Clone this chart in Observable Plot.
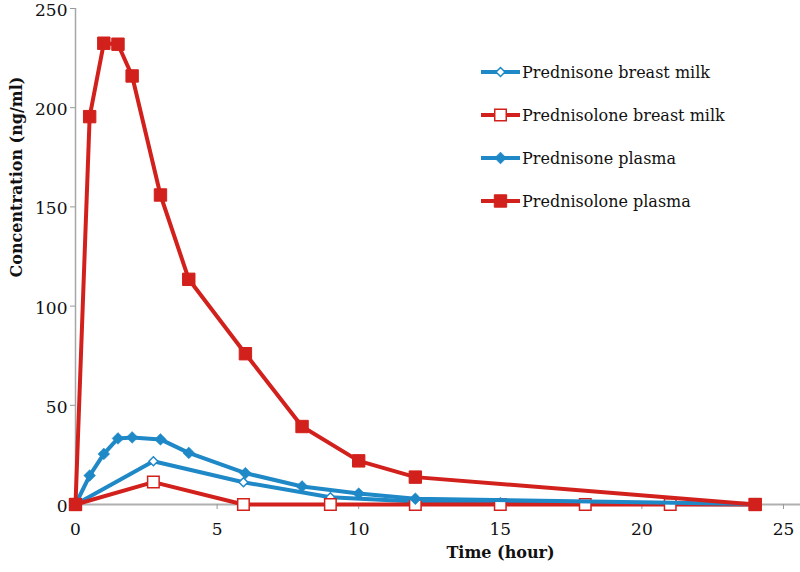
<!DOCTYPE html>
<html>
<head>
<meta charset="utf-8">
<script src="https://cdn.jsdelivr.net/npm/d3@7"></script>
<script src="https://cdn.jsdelivr.net/npm/@observablehq/plot@0.6"></script>
<style>
  html, body { margin: 0; padding: 0; background: #fff; }
  #wrap { position: relative; width: 800px; height: 572px; }
  #legend { position: absolute; left: 0; top: 0; pointer-events: none; }
</style>
</head>
<body>
<div id="wrap"></div>
<script>
// ---- data ----
const timesPlasma = [0, 0.5, 1, 1.5, 2, 3, 4, 6, 8, 10, 12, 24];
const prednisolonePlasma = [0, 195.5, 232.5, 232, 216, 156, 113.5, 76, 39.3, 22, 13.8, 0];
const prednisonePlasma = [0, 14.6, 25.5, 33.3, 33.8, 32.8, 26, 15.8, 9.1, 5.5, 2.9, 0.3];
const timesMilk = [0, 2.75, 5.93, 9, 12, 15, 18, 21, 24];
const prednisoneMilk = [0, 21.8, 11.2, 3.7, 1.5, 1, 0.6, 0.3, 0];
const prednisoloneMilk = [0, 11.3, 0, 0, 0, 0, 0, 0, 0];
const seriesNames = ["Prednisone breast milk", "Prednisolone breast milk", "Prednisone plasma", "Prednisolone plasma"];
const xTicks = [0, 5, 10, 15, 20, 25];
const yTicks = [0, 50, 100, 150, 200, 250];

const BLUE = "#1f88c7";
const RED = "#d2211c";

const toRows = (xs, ys) => xs.map((t, i) => ({t, v: ys[i]}));
const milkBlue = toRows(timesMilk, prednisoneMilk);
const milkRed = toRows(timesMilk, prednisoloneMilk);
const plasmaBlue = toRows(timesPlasma, prednisonePlasma);
const plasmaRed = toRows(timesPlasma, prednisolonePlasma);

const styles = [
  {data: milkBlue, color: BLUE, symbol: "diamond2", r: 4, fill: "white", sw: 1.5},
  {data: milkRed, color: RED, symbol: "square", r: 6.5, fill: "white", sw: 1.5},
  {data: plasmaBlue, color: BLUE, symbol: "diamond2", r: 5.3, fill: BLUE, sw: 0.5},
  {data: plasmaRed, color: RED, symbol: "square", r: 7, fill: RED, sw: 1}
];

const seriesMarks = styles.flatMap(s => [
  Plot.line(s.data, {x: "t", y: "v", stroke: s.color, strokeWidth: 4, strokeLinejoin: "round"}),
  Plot.dot(s.data, {x: "t", y: "v", symbol: s.symbol, r: s.r, fill: s.fill, stroke: s.color, strokeWidth: s.sw})
]);

const chart = Plot.plot({
  width: 800,
  height: 572,
  marginLeft: 75,
  marginRight: 17,
  marginTop: 8,
  marginBottom: 68,
  style: {fontFamily: "DejaVu Serif", fontSize: "17px", color: "#111", background: "white"},
  x: {domain: [0, 25]},
  y: {domain: [0, 250]},
  marks: [
    Plot.ruleX([0], {stroke: "#a6a6a6", strokeWidth: 1.5}),
    Plot.ruleY([0], {stroke: "#b0b0b0", strokeWidth: 2, insetRight: -17}),
    Plot.axisY({ticks: yTicks, tickSize: 5, text: null, label: null, stroke: "#999"}),
    Plot.axisY({ticks: yTicks, tickSize: 0, tickPadding: 8, label: null, fill: "#111", fontSize: 17, dy: 2}),
    Plot.axisX({ticks: xTicks, tickSize: 5, tickPadding: 13, label: null, stroke: "#999", fill: "#111", fontSize: 17}),
    ...seriesMarks,
    Plot.text(["Time (hour)"], {frameAnchor: "bottom", dx: 71, dy: 53, fontWeight: "bold", fontSize: 16, fill: "#111"}),
    Plot.text(["Concentration (ng/ml)"], {frameAnchor: "left", dx: -59, dy: 21, rotate: -90, fontWeight: "bold", fontSize: 16, fill: "#111"})
  ]
});

const wrap = document.getElementById("wrap");
wrap.appendChild(chart);

// ---- legend overlay ----
const legend = d3.select(wrap).append("svg")
  .attr("id", "legend")
  .attr("width", 800).attr("height", 572)
  .style("font-family", "DejaVu Serif").style("font-size", "16px");
const legendY = [72, 115, 158, 201];
const symMap = {square: d3.symbolSquare, diamond2: d3.symbolDiamond2};
styles.forEach((s, i) => {
  const g = legend.append("g").attr("transform", `translate(0,${legendY[i]})`);
  g.append("line").attr("x1", 481).attr("x2", 520).attr("y1", 0).attr("y2", 0)
    .attr("stroke", s.color).attr("stroke-width", 4);
  g.append("path")
    .attr("d", d3.symbol(symMap[s.symbol], Math.PI * s.r * s.r)())
    .attr("transform", "translate(500.5,0)")
    .attr("fill", s.fill).attr("stroke", s.color).attr("stroke-width", s.sw);
  g.append("text").attr("x", 522).attr("y", 0).attr("dy", "0.36em")
    .attr("fill", "#111").text(seriesNames[i]);
});
</script>
</body>
</html>
